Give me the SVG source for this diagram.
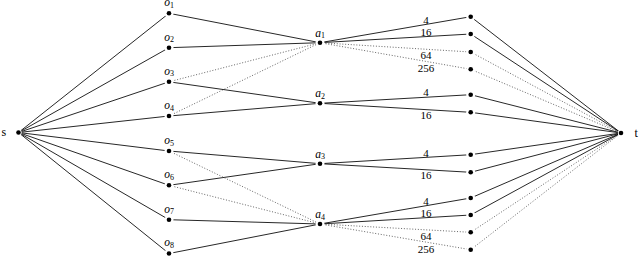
<svg xmlns="http://www.w3.org/2000/svg" width="640" height="257" viewBox="0 0 640 257">
<style>
text{font-family:"Liberation Serif","DejaVu Serif",serif;fill:#000}
.lbl{font-size:11.5px;font-style:italic;text-anchor:middle}
.sub{font-size:8px;font-style:normal}
.w{font-size:11px;text-anchor:middle}
.st{font-size:12px}
.e{stroke:#000;stroke-width:0.85;fill:none}
.d{stroke:#555;stroke-width:0.9;stroke-dasharray:1 1.8;fill:none}
.halo{fill:#fff}
.dot{fill:#000}
</style>
<rect width="640" height="257" fill="#fff"/>
<g id="connectors">
<line class="e" x1="18.5" y1="132.5" x2="169" y2="13.3"/>
<line class="e" x1="18.5" y1="132.5" x2="169" y2="47.7"/>
<line class="e" x1="18.5" y1="132.5" x2="169" y2="81.8"/>
<line class="e" x1="18.5" y1="132.5" x2="169" y2="116"/>
<line class="e" x1="18.5" y1="132.5" x2="169" y2="151"/>
<line class="e" x1="18.5" y1="132.5" x2="169" y2="185.3"/>
<line class="e" x1="18.5" y1="132.5" x2="169" y2="219.7"/>
<line class="e" x1="18.5" y1="132.5" x2="169" y2="253.5"/>
<line class="e" x1="169" y1="13.3" x2="320" y2="42.7"/>
<line class="e" x1="169" y1="47.7" x2="320" y2="42.7"/>
<line class="d" x1="169" y1="81.8" x2="320" y2="42.7"/>
<line class="d" x1="169" y1="116" x2="320" y2="42.7"/>
<line class="e" x1="169" y1="81.8" x2="320" y2="103.3"/>
<line class="e" x1="169" y1="116" x2="320" y2="103.3"/>
<line class="e" x1="169" y1="151" x2="320" y2="163.7"/>
<line class="e" x1="169" y1="185.3" x2="320" y2="163.7"/>
<line class="d" x1="169" y1="151" x2="320" y2="224"/>
<line class="d" x1="169" y1="185.3" x2="320" y2="224"/>
<line class="e" x1="169" y1="219.7" x2="320" y2="224"/>
<line class="e" x1="169" y1="253.5" x2="320" y2="224"/>
<line class="e" x1="320" y1="42.7" x2="470.7" y2="16.7"/>
<line class="e" x1="320" y1="42.7" x2="470.7" y2="34"/>
<line class="d" x1="320" y1="42.7" x2="470.7" y2="52"/>
<line class="d" x1="320" y1="42.7" x2="470.7" y2="69.3"/>
<line class="e" x1="320" y1="103.3" x2="470.7" y2="94.7"/>
<line class="e" x1="320" y1="103.3" x2="470.7" y2="112.3"/>
<line class="e" x1="320" y1="163.7" x2="470.7" y2="154.7"/>
<line class="e" x1="320" y1="163.7" x2="470.7" y2="172.3"/>
<line class="e" x1="320" y1="224" x2="470.7" y2="198"/>
<line class="e" x1="320" y1="224" x2="470.7" y2="215"/>
<line class="d" x1="320" y1="224" x2="470.7" y2="232.3"/>
<line class="d" x1="320" y1="224" x2="470.7" y2="249.7"/>
<line class="e" x1="470.7" y1="16.7" x2="621" y2="133"/>
<line class="e" x1="470.7" y1="34" x2="621" y2="133"/>
<line class="d" x1="470.7" y1="52" x2="621" y2="133"/>
<line class="d" x1="470.7" y1="69.3" x2="621" y2="133"/>
<line class="e" x1="470.7" y1="94.7" x2="621" y2="133"/>
<line class="e" x1="470.7" y1="112.3" x2="621" y2="133"/>
<line class="e" x1="470.7" y1="154.7" x2="621" y2="133"/>
<line class="e" x1="470.7" y1="172.3" x2="621" y2="133"/>
<line class="e" x1="470.7" y1="198" x2="621" y2="133"/>
<line class="e" x1="470.7" y1="215" x2="621" y2="133"/>
<line class="d" x1="470.7" y1="232.3" x2="621" y2="133"/>
<line class="d" x1="470.7" y1="249.7" x2="621" y2="133"/>
<text class="w" x="426" y="23.5">4</text>
<text class="w" x="426" y="35.5">16</text>
<text class="w" x="426" y="59">64</text>
<text class="w" x="426" y="72.3">256</text>
<text class="w" x="426" y="96">4</text>
<text class="w" x="426" y="119.3">16</text>
<text class="w" x="426" y="157">4</text>
<text class="w" x="426" y="178.6">16</text>
<text class="w" x="426" y="205.3">4</text>
<text class="w" x="426" y="216.6">16</text>
<text class="w" x="426" y="239.6">64</text>
<text class="w" x="426" y="253">256</text>
</g>
<g id="s"><circle class="halo" cx="18.5" cy="132.5" r="3.2"/><circle class="dot" cx="18.5" cy="132.5" r="2.3"/><text class="st" x="1.5" y="136">s</text></g>
<g id="o1"><circle class="halo" cx="169" cy="13.3" r="4.5"/><circle class="dot" cx="169" cy="13.3" r="2.3"/><text class="lbl" x="169" y="6.3">o<tspan class="sub" dy="1.8">1</tspan></text></g>
<g id="o2"><circle class="halo" cx="169" cy="47.7" r="4.5"/><circle class="dot" cx="169" cy="47.7" r="2.3"/><text class="lbl" x="169" y="40.5">o<tspan class="sub" dy="1.8">2</tspan></text></g>
<g id="o3"><circle class="halo" cx="169" cy="81.8" r="4.5"/><circle class="dot" cx="169" cy="81.8" r="2.3"/><text class="lbl" x="169" y="74.6">o<tspan class="sub" dy="1.8">3</tspan></text></g>
<g id="o4"><circle class="halo" cx="169" cy="116" r="4.5"/><circle class="dot" cx="169" cy="116" r="2.3"/><text class="lbl" x="169" y="108.8">o<tspan class="sub" dy="1.8">4</tspan></text></g>
<g id="o5"><circle class="halo" cx="169" cy="151" r="4.5"/><circle class="dot" cx="169" cy="151" r="2.3"/><text class="lbl" x="169" y="143.8">o<tspan class="sub" dy="1.8">5</tspan></text></g>
<g id="o6"><circle class="halo" cx="169" cy="185.3" r="4.5"/><circle class="dot" cx="169" cy="185.3" r="2.3"/><text class="lbl" x="169" y="178.1">o<tspan class="sub" dy="1.8">6</tspan></text></g>
<g id="o7"><circle class="halo" cx="169" cy="219.7" r="4.5"/><circle class="dot" cx="169" cy="219.7" r="2.3"/><text class="lbl" x="169" y="212.5">o<tspan class="sub" dy="1.8">7</tspan></text></g>
<g id="o8"><circle class="halo" cx="169" cy="253.5" r="4.5"/><circle class="dot" cx="169" cy="253.5" r="2.3"/><text class="lbl" x="169" y="246.3">o<tspan class="sub" dy="1.8">8</tspan></text></g>
<g id="a1"><circle class="halo" cx="320" cy="42.7" r="4.5"/><circle class="dot" cx="320" cy="42.7" r="2.3"/><text class="lbl" x="320" y="36.5">a<tspan class="sub" dy="1.8">1</tspan></text></g>
<g id="a2"><circle class="halo" cx="320" cy="103.3" r="4.5"/><circle class="dot" cx="320" cy="103.3" r="2.3"/><text class="lbl" x="320" y="97.1">a<tspan class="sub" dy="1.8">2</tspan></text></g>
<g id="a3"><circle class="halo" cx="320" cy="163.7" r="4.5"/><circle class="dot" cx="320" cy="163.7" r="2.3"/><text class="lbl" x="320" y="157.5">a<tspan class="sub" dy="1.8">3</tspan></text></g>
<g id="a4"><circle class="halo" cx="320" cy="224" r="4.5"/><circle class="dot" cx="320" cy="224" r="2.3"/><text class="lbl" x="320" y="217.8">a<tspan class="sub" dy="1.8">4</tspan></text></g>
<g id="r1"><circle class="halo" cx="470.7" cy="16.7" r="4.5"/><circle class="dot" cx="470.7" cy="16.7" r="2.3"/></g>
<g id="r2"><circle class="halo" cx="470.7" cy="34" r="4.5"/><circle class="dot" cx="470.7" cy="34" r="2.3"/></g>
<g id="r3"><circle class="halo" cx="470.7" cy="52" r="4.5"/><circle class="dot" cx="470.7" cy="52" r="2.3"/></g>
<g id="r4"><circle class="halo" cx="470.7" cy="69.3" r="4.5"/><circle class="dot" cx="470.7" cy="69.3" r="2.3"/></g>
<g id="r5"><circle class="halo" cx="470.7" cy="94.7" r="4.5"/><circle class="dot" cx="470.7" cy="94.7" r="2.3"/></g>
<g id="r6"><circle class="halo" cx="470.7" cy="112.3" r="4.5"/><circle class="dot" cx="470.7" cy="112.3" r="2.3"/></g>
<g id="r7"><circle class="halo" cx="470.7" cy="154.7" r="4.5"/><circle class="dot" cx="470.7" cy="154.7" r="2.3"/></g>
<g id="r8"><circle class="halo" cx="470.7" cy="172.3" r="4.5"/><circle class="dot" cx="470.7" cy="172.3" r="2.3"/></g>
<g id="r9"><circle class="halo" cx="470.7" cy="198" r="4.5"/><circle class="dot" cx="470.7" cy="198" r="2.3"/></g>
<g id="r10"><circle class="halo" cx="470.7" cy="215" r="4.5"/><circle class="dot" cx="470.7" cy="215" r="2.3"/></g>
<g id="r11"><circle class="halo" cx="470.7" cy="232.3" r="4.5"/><circle class="dot" cx="470.7" cy="232.3" r="2.3"/></g>
<g id="r12"><circle class="halo" cx="470.7" cy="249.7" r="4.5"/><circle class="dot" cx="470.7" cy="249.7" r="2.3"/></g>
<g id="t"><circle class="halo" cx="621" cy="133" r="3.2"/><circle class="dot" cx="621" cy="133" r="2.3"/><text class="st" x="634.5" y="136.5">t</text></g>
</svg>
